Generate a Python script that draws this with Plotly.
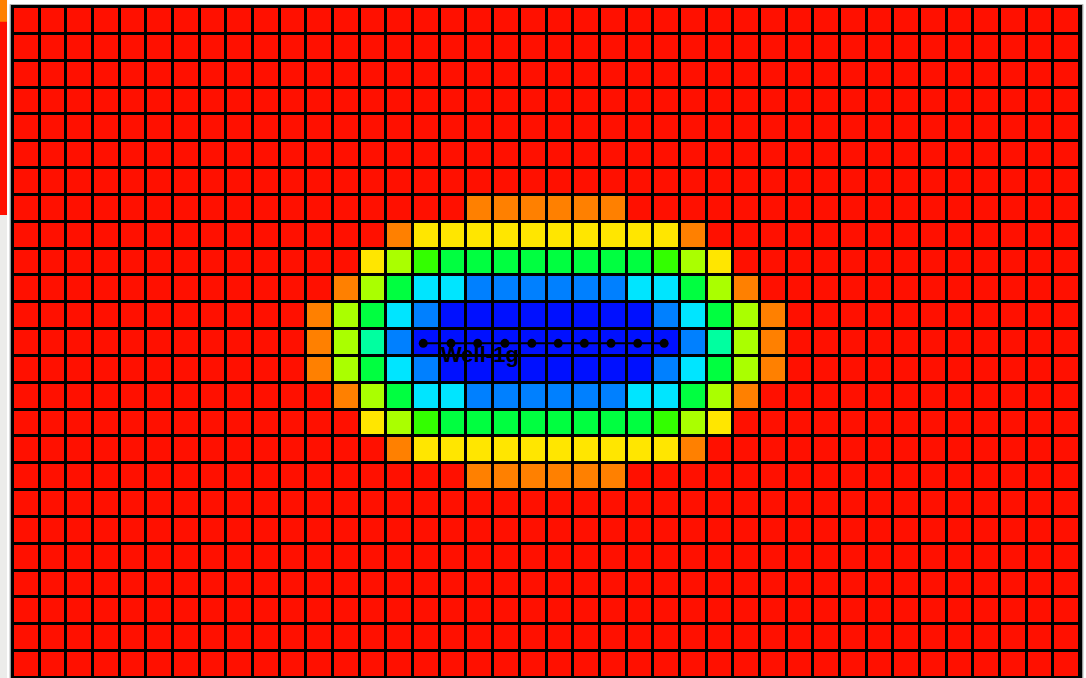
import plotly.graph_objects as go

# ---------------- data ----------------
n_cols = 40
n_rows = 25
background_level = 9          # red

# discrete property classes (0 = lowest / blue ... 9 = highest / red)
class_colors = ["#0010ff", "#0080ff", "#00e5ff", "#00ffa0", "#00ff40",
                "#33ff00", "#aaff00", "#ffe600", "#ff8000", "#ff1000"]

# anomaly block: rows 7..17, columns 11..28
block_first_row = 7
block_first_col = 11
row_07 = [9, 9, 9, 9, 9, 9, 8, 8, 8, 8, 8, 8, 9, 9, 9, 9, 9, 9]
row_08 = [9, 9, 9, 8, 7, 7, 7, 7, 7, 7, 7, 7, 7, 7, 8, 9, 9, 9]
row_09 = [9, 9, 7, 6, 5, 4, 4, 4, 4, 4, 4, 4, 4, 5, 6, 7, 9, 9]
row_10 = [9, 8, 6, 4, 2, 2, 1, 1, 1, 1, 1, 1, 2, 2, 4, 6, 8, 9]
row_11 = [8, 6, 4, 2, 1, 0, 0, 0, 0, 0, 0, 0, 0, 1, 2, 4, 6, 8]
row_12 = [8, 6, 3, 1, 0, 0, 0, 0, 0, 0, 0, 0, 0, 0, 1, 3, 6, 8]
row_13 = [8, 6, 4, 2, 1, 0, 0, 0, 0, 0, 0, 0, 0, 1, 2, 4, 6, 8]
row_14 = [9, 8, 6, 4, 2, 2, 1, 1, 1, 1, 1, 1, 2, 2, 4, 6, 8, 9]
row_15 = [9, 9, 7, 6, 5, 4, 4, 4, 4, 4, 4, 4, 4, 5, 6, 7, 9, 9]
row_16 = [9, 9, 9, 8, 7, 7, 7, 7, 7, 7, 7, 7, 7, 7, 8, 9, 9, 9]
row_17 = [9, 9, 9, 9, 9, 9, 8, 8, 8, 8, 8, 8, 9, 9, 9, 9, 9, 9]

# well trajectory (grid coordinates)
well_name = "Well-1g"
well_x = [14.88, 15.92, 16.92, 17.94, 18.95, 19.94, 20.92, 21.92, 22.92, 23.91]
well_y = [12.03, 12.03, 12.03, 12.03, 12.03, 12.03, 12.03, 12.03, 12.03, 12.03]
label_x = 15.47
label_y = 12.45

# ---------------- build grid ----------------
block_rows = [row_07, row_08, row_09, row_10, row_11, row_12,
              row_13, row_14, row_15, row_16, row_17]
z = [[background_level] * n_cols for _ in range(n_rows)]
for i, r in enumerate(block_rows):
    for j, v in enumerate(r):
        z[block_first_row + i][block_first_col + j] = v

n = len(class_colors)
colorscale = []
for k, c in enumerate(class_colors):
    colorscale.append([k / n, c])
    colorscale.append([(k + 1) / n, c])

fig = go.Figure()
fig.add_trace(go.Heatmap(
    z=z, x=list(range(n_cols)), y=list(range(n_rows)),
    colorscale=colorscale, zmin=-0.5, zmax=n - 0.5,
    showscale=False, xgap=3, ygap=3, hoverinfo="skip",
))
fig.add_trace(go.Scatter(
    x=well_x, y=well_y, mode="lines+markers",
    line=dict(color="black", width=2),
    marker=dict(color="black", size=9, symbol="circle"),
    showlegend=False, hoverinfo="skip",
))
fig.add_annotation(
    x=label_x, y=label_y, text=well_name, showarrow=False,
    xanchor="left", yanchor="middle",
    font=dict(family="Liberation Sans", size=22, color="black", weight="bold"),
)

# decorative window frame / background (outside plot area)
shapes = [
    dict(type="rect", xref="paper", yref="paper", x0=-0.0022, x1=1.0022,
         y0=-0.01, y1=1.0025, line=dict(color="#9a9a9a", width=2),
         fillcolor="rgba(0,0,0,0)", layer="below"),
    dict(type="rect", xref="paper", yref="paper", x0=-0.0122, x1=-0.0056,
         y0=0.69, y1=1.0104, line=dict(width=0), fillcolor="#ff1000", layer="below"),
    dict(type="rect", xref="paper", yref="paper", x0=-0.0122, x1=-0.0056,
         y0=0.978, y1=1.0104, line=dict(width=0), fillcolor="#ff8000", layer="below"),
    dict(type="rect", xref="paper", yref="paper", x0=-0.0122, x1=-0.0056,
         y0=-0.01, y1=0.69, line=dict(width=0), fillcolor="#ececea", layer="below"),
]
fig.update_layout(shapes=shapes)

fig.update_xaxes(range=[-0.5, n_cols - 0.5], visible=True, showticklabels=False,
                 ticks="", showgrid=False, zeroline=False,
                 showline=True, mirror=True, linecolor="black", linewidth=2)
fig.update_yaxes(range=[n_rows - 0.5, -0.5], visible=True, showticklabels=False,
                 ticks="", showgrid=False, zeroline=False,
                 showline=True, mirror=True, linecolor="black", linewidth=2)
fig.update_layout(
    width=1086, height=678,
    margin=dict(l=13, r=6, t=7, b=0, pad=0),
    paper_bgcolor="#ffffff", plot_bgcolor="#000000",
)
fig.write_html(
    "out.html",
    config={"displayModeBar": False},
    post_script="document.body.style.margin='0';document.body.style.overflow='hidden';",
)
